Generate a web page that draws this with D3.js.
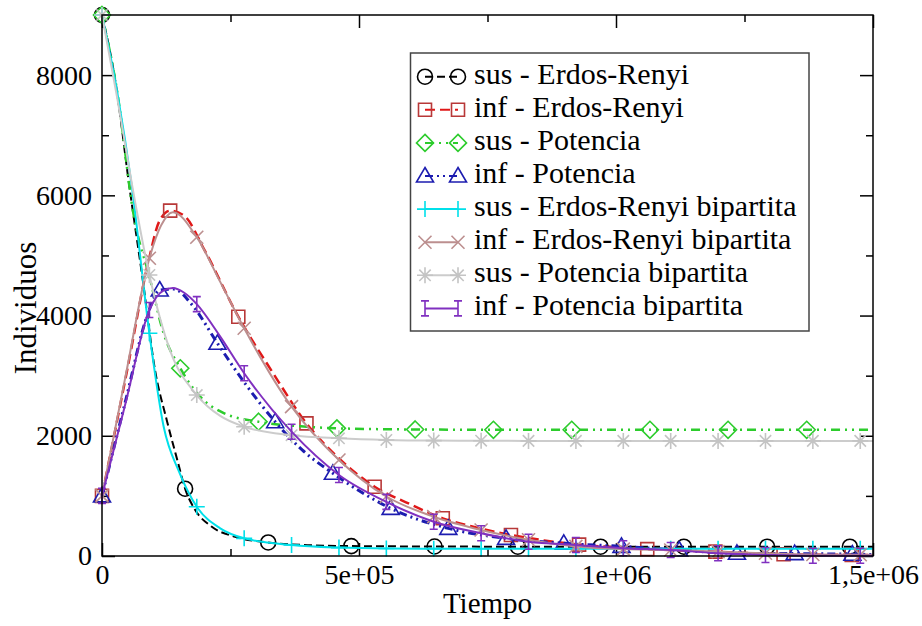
<!DOCTYPE html>
<html><head><meta charset="utf-8">
<script src="https://cdn.jsdelivr.net/npm/d3@7"></script>
<style>
html,body{margin:0;padding:0;background:#fff;}
#chart text{font-family:'Liberation Serif','DejaVu Serif','Noto Serif','Times New Roman',Times,serif;}
</style></head>
<body><svg id="chart" width="922" height="626"></svg>
<script>
// ---- axis ticks (x in thousands of time units) ----
const xTickValues = [0, 500, 1000, 1500];
const xTickLabels = ["0", "5e+05", "1e+06", "1,5e+06"];
const xMinorTicks = [250, 750, 1250];
const yTickValues = [0, 2000, 4000, 6000, 8000];
const yTickLabels = ["0", "2000", "4000", "6000", "8000"];
const yMinorTicks = [1000, 3000, 5000, 7000];

// ---- series (mt/mv = points with symbols, xt/xv = additional line points) ----
const names = ["sus - Erdos-Renyi","inf - Erdos-Renyi","sus - Potencia","inf - Potencia",
  "sus - Erdos-Renyi bipartita","inf - Erdos-Renyi bipartita","sus - Potencia bipartita","inf - Potencia bipartita"];

const susER_mt = [0,161.7,323.4,485,647,809,970,1132,1294,1455];
const susER_mv = [9000,1120,225,165,158,155,155,155,155,155];
const susER_xt = [25,54,80,103,126,148,181,213,259,400,1500];
const susER_xv = [7950,6100,4550,3100,2260,1550,770,490,320,180,155];

const infER_mt = [0,132.6,265.2,397.8,530.4,663,795.6,928.2,1060.8,1193.4,1326,1458.6];
const infER_mv = [1000,5745,3981,2207,1153,627,349,190,115,72,30,18];
const infER_xt = [48,93,111,160,200,330,460,600,730,860,1500];
const infER_xv = [3050,5000,5560,5660,5080,3080,1630,860,470,260,15];

const susPot_mt = [0,152.3,304.6,457,609.2,761.5,913.8,1066,1218,1371];
const susPot_mv = [9000,3123,2234,2124,2105,2100,2100,2100,2100,2100];
const susPot_xt = [30,61,93,120,191,236,398,1500];
const susPot_xv = [7700,5700,4620,3700,2650,2380,2150,2100];

const infPot_mt = [0,112.3,224.6,336.9,449.2,561.5,673.8,786.1,898.4,1010.7,1123,1235.3,1347.6,1459.9];
const infPot_mv = [1000,4425,3539,2234,1376,793,460,294,211,160,100,45,40,30];
const infPot_xt = [45,90,140,175,280,390,505,1500];
const infPot_xv = [2550,4050,4440,4180,2850,1760,1060,25];

const bip_mt = [0,92.2,184.4,276.6,368.8,461,553.2,645.4,737.6,829.8,922,1014.2,1106.4,1198.6,1290.8,1383,1475.2];

const susERb_mv = [9000,3705,820,294,183,140,125,122,120,120,120,120,120,120,120,120,120];
const susERb_xt = [30,58,120,150,230,1500];
const susERb_xv = [7700,6150,2150,1400,460,120];

const infERb_mv = [1000,4953,5302,3788,2484,1597,990,654,433,270,160,115,100,72,45,25,20];
const infERb_xt = [46,115,138,230,1500];
const infERb_xv = [3000,5500,5720,4560,20];

const susPotb_mv = [9000,4675,2678,2151,2010,1958,1930,1920,1918,1915,1915,1915,1915,1915,1915,1915,1915];
const susPotb_xt = [30,60,132,230,1500];
const susPotb_xv = [7600,6100,3430,2330,1915];

const infPotb_mv = [1000,4093,4190,3040,2068,1348,900,571,378,238,183,130,100,45,17,5,5];
const infPotb_xt = [46,120,138,160,230,1500];
const infPotb_xv = [2550,4420,4460,4380,3650,5];

const seriesDefs = [
  {mt:susER_mt, mv:susER_mv, xt:susER_xt, xv:susER_xv, color:"#000000", mcolor:"#000000", dash:"8,4", w:2, sym:"circle"},
  {mt:infER_mt, mv:infER_mv, xt:infER_xt, xv:infER_xv, color:"#e01818", mcolor:"#b83838", dash:"10,5", w:2.5, sym:"square"},
  {mt:susPot_mt, mv:susPot_mv, xt:susPot_xt, xv:susPot_xv, color:"#2ccc2c", mcolor:"#2ccc2c", dash:"9,5,2,5,2,5", w:2.5, sym:"diamond"},
  {mt:infPot_mt, mv:infPot_mv, xt:infPot_xt, xv:infPot_xv, color:"#1c1cb0", mcolor:"#1c1cb0", dash:"8,4,2,4,2,4", w:3, sym:"triangle"},
  {mt:bip_mt, mv:susERb_mv, xt:susERb_xt, xv:susERb_xv, color:"#00e0ea", mcolor:"#00e0ea", dash:null, w:2, sym:"plus"},
  {mt:bip_mt, mv:infERb_mv, xt:infERb_xt, xv:infERb_xv, color:"#bc8f8f", mcolor:"#bc8f8f", dash:null, w:2, sym:"cross"},
  {mt:bip_mt, mv:susPotb_mv, xt:susPotb_xt, xv:susPotb_xv, color:"#cccccc", mcolor:"#c4c4c4", dash:null, w:2, sym:"star"},
  {mt:bip_mt, mv:infPotb_mv, xt:infPotb_xt, xv:infPotb_xv, color:"#8030c0", mcolor:"#8030c0", dash:null, w:2, sym:"ibar"}
];

// ---- layout ----
const L = 102, R = 873, T = 15, B = 556;
const svg = d3.select("#chart");
const x = d3.scaleLinear().domain([0, 1500]).range([L, R]);
const y = d3.scaleLinear().domain([0, 9000]).range([B, T]);

// ---- symbols ----
function symPath(sym) {
  const p = d3.path();
  switch (sym) {
    case "circle": p.arc(0,0,7.5,0,2*Math.PI); break;
    case "square": p.rect(-6.5,-6.5,13,13); break;
    case "diamond": p.moveTo(0,-8.5); p.lineTo(8.5,0); p.lineTo(0,8.5); p.lineTo(-8.5,0); p.closePath(); break;
    case "triangle": p.moveTo(0,-8.5); p.lineTo(8.5,6); p.lineTo(-8.5,6); p.closePath(); break;
    case "plus": p.moveTo(-8,0); p.lineTo(8,0); p.moveTo(0,-8); p.lineTo(0,8); break;
    case "cross": p.moveTo(-6.5,-6.5); p.lineTo(6.5,6.5); p.moveTo(-6.5,6.5); p.lineTo(6.5,-6.5); break;
    case "star": p.moveTo(-8,0); p.lineTo(8,0); p.moveTo(0,-8); p.lineTo(0,8);
      p.moveTo(-5.7,-5.7); p.lineTo(5.7,5.7); p.moveTo(-5.7,5.7); p.lineTo(5.7,-5.7); break;
    case "ibar": p.moveTo(0,-7.5); p.lineTo(0,7.5); p.moveTo(-4,-7.5); p.lineTo(4,-7.5); p.moveTo(-4,7.5); p.lineTo(4,7.5); break;
  }
  return p.toString();
}

// ---- axes ----
const fontSize = 28;
function styleAxis(g) {
  g.attr("font-family", null).attr("font-size", fontSize);
  g.select(".domain").remove();
  g.selectAll("line").attr("stroke", "#000").attr("stroke-width", 1.5);
  g.selectAll("text").attr("fill", "#000");
}
const fmtX = d => xTickLabels[xTickValues.indexOf(d)];
const fmtY = d => yTickLabels[yTickValues.indexOf(d)];

svg.append("g").attr("transform", `translate(0,${B})`)
  .call(d3.axisBottom(x).tickValues(xTickValues).tickFormat(fmtX).tickSizeInner(-13).tickSizeOuter(0).tickPadding(8))
  .call(styleAxis);
svg.append("g").attr("transform", `translate(0,${B})`)
  .call(d3.axisBottom(x).tickValues(xMinorTicks).tickFormat("").tickSizeInner(-7).tickSizeOuter(0))
  .call(styleAxis);
svg.append("g").attr("transform", `translate(0,${T})`)
  .call(d3.axisTop(x).tickValues(xTickValues).tickFormat("").tickSizeInner(-13).tickSizeOuter(0))
  .call(styleAxis);
svg.append("g").attr("transform", `translate(0,${T})`)
  .call(d3.axisTop(x).tickValues(xMinorTicks).tickFormat("").tickSizeInner(-7).tickSizeOuter(0))
  .call(styleAxis);
svg.append("g").attr("transform", `translate(${L},0)`)
  .call(d3.axisLeft(y).tickValues(yTickValues).tickFormat(fmtY).tickSizeInner(-13).tickSizeOuter(0).tickPadding(10))
  .call(styleAxis);
svg.append("g").attr("transform", `translate(${L},0)`)
  .call(d3.axisLeft(y).tickValues(yMinorTicks).tickFormat("").tickSizeInner(-7).tickSizeOuter(0))
  .call(styleAxis);
svg.append("g").attr("transform", `translate(${R},0)`)
  .call(d3.axisRight(y).tickValues(yTickValues).tickFormat("").tickSizeInner(-13).tickSizeOuter(0))
  .call(styleAxis);
svg.append("g").attr("transform", `translate(${R},0)`)
  .call(d3.axisRight(y).tickValues(yMinorTicks).tickFormat("").tickSizeInner(-7).tickSizeOuter(0))
  .call(styleAxis);

// ---- series ----
const plot = svg.append("g");
const line = d3.line().x(d => x(d[0])).y(d => y(d[1])).curve(d3.curveMonotoneX);
seriesDefs.forEach(s => {
  const pts = s.mt.map((t,i) => [t, s.mv[i]]).concat(s.xt.map((t,i) => [t, s.xv[i]]))
    .filter(d => d[0] <= 1500).sort((a,b) => a[0]-b[0]);
  const path = plot.append("path").attr("d", line(pts)).attr("fill", "none")
    .attr("stroke", s.color).attr("stroke-width", s.w).attr("stroke-linejoin", "round");
  if (s.dash) path.attr("stroke-dasharray", s.dash);
  const sp = symPath(s.sym);
  s.mt.forEach((t,i) => {
    plot.append("path").attr("d", sp)
      .attr("transform", `translate(${x(t)},${y(s.mv[i])})`)
      .attr("fill", "none").attr("stroke", s.mcolor).attr("stroke-width", 1.6);
  });
});

// ---- frame ----
svg.append("rect").attr("x", L).attr("y", T).attr("width", R-L).attr("height", B-T)
  .attr("fill", "none").attr("stroke", "#000").attr("stroke-width", 1.5);

// ---- axis titles ----
svg.append("text").attr("x", (L+R)/2).attr("y", 613).attr("text-anchor", "middle")
  .attr("font-size", 29).text("Tiempo");
svg.append("text").attr("transform", `translate(36,308) rotate(-90)`)
  .attr("text-anchor", "middle").attr("font-size", 31).text("Individuos");

// ---- legend ----
const lg = svg.append("g");
lg.append("rect").attr("x", 410.5).attr("y", 53).attr("width", 398.5).attr("height", 278)
  .attr("fill", "#fff").attr("stroke", "#444").attr("stroke-width", 1.5);
seriesDefs.forEach((s, i) => {
  const cy = 76.7 + i * 33.1;
  const seg = lg.append("line").attr("x1", 425).attr("x2", 458).attr("y1", cy).attr("y2", cy)
    .attr("stroke", s.color).attr("stroke-width", s.w > 2 ? 2 : s.w);
  if (s.dash) seg.attr("stroke-dasharray", s.dash);
  const sp = symPath(s.sym);
  [425, 458].forEach(cx => lg.append("path").attr("d", sp).attr("transform", `translate(${cx},${cy})`)
    .attr("fill", "none").attr("stroke", s.mcolor).attr("stroke-width", 1.6));
  lg.append("text").attr("x", 474).attr("y", cy + 7).attr("font-size", 30)
    .attr("fill", "#000").text(names[i]);
});
</script></body></html>
